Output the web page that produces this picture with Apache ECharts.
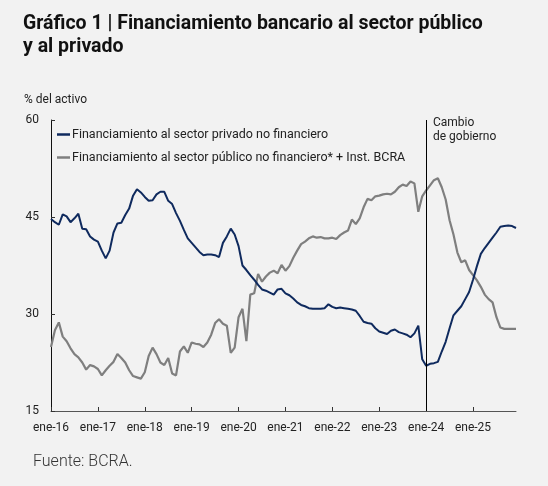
<!DOCTYPE html>
<html>
<head>
<meta charset="utf-8">
<script src="https://cdn.jsdelivr.net/npm/echarts@6/dist/echarts.min.js"></script>
<style>
html,body{margin:0;padding:0;background:#f2f2f2;}
#c{width:548px;height:486px;}
</style>
</head>
<body>
<div id="c"></div>
<script>
var monthNames = ['ene','feb','mar','abr','may','jun','jul','ago','sep','oct','nov','dic'];
var years = ['16','17','18','19','20','21','22','23','24','25'];
var categories = [];
years.forEach(function(y){ monthNames.forEach(function(m){ categories.push(m + '-' + y); }); });

var privado = [
44.7,44.2,43.8,45.4,45.1,44.2,44.8,45.5,43.2,43.1,42.0,41.5,
41.2,39.8,38.6,39.8,42.6,44.0,44.1,45.3,46.3,48.3,49.3,48.8,
48.1,47.5,47.6,48.5,48.9,48.9,47.5,47.0,45.6,44.4,43.0,41.7,
41.0,40.3,39.6,39.1,39.2,39.2,39.1,38.8,41.0,42.0,43.2,42.3,
40.5,37.5,36.8,36.0,35.3,34.5,33.8,33.6,33.3,33.0,33.8,33.9,
33.2,32.9,32.4,31.8,31.4,31.2,30.9,30.8,30.8,30.8,30.9,31.5,
31.1,30.9,31.0,30.9,30.8,30.7,30.5,29.7,28.8,28.6,28.5,27.8,
27.3,27.1,26.9,27.4,27.6,27.2,27.0,26.8,26.4,27.0,28.2,23.0,
22.0,22.3,22.4,22.6,24.2,25.7,27.8,29.8,30.5,31.2,32.3,33.4,
35.3,37.4,39.3,40.2,41.0,41.8,42.6,43.5,43.6,43.7,43.6,43.3
];
var publico = [
24.9,27.5,28.7,26.5,25.8,24.7,23.8,23.3,22.5,21.4,22.1,21.9,
21.5,20.5,21.3,22.0,22.6,23.8,23.2,22.5,21.3,20.4,20.2,20.0,
21.0,23.5,24.8,23.8,22.5,22.1,23.2,20.8,20.5,24.2,25.0,24.0,
25.6,25.4,25.3,24.9,25.6,26.8,28.6,29.2,28.5,28.2,24.0,24.8,
29.5,30.8,25.8,33.0,33.2,36.2,35.0,35.8,36.4,36.7,36.3,37.6,
36.7,37.4,38.7,39.8,40.8,41.2,41.7,42.0,41.8,41.9,41.7,41.7,
41.8,41.6,42.2,42.6,42.9,44.6,43.9,44.8,46.5,47.8,47.6,48.2,
48.3,48.5,48.6,48.5,48.9,49.6,50.0,49.8,50.5,50.2,45.8,48.2,
49.1,49.9,50.7,51.0,49.6,47.7,44.5,42.3,39.5,38.0,38.3,36.8,
36.0,35.2,34.2,33.0,32.3,31.8,29.5,27.9,27.7,27.7,27.7,27.7
];
var yTicks = [15, 30, 45, 60];
var seriesNames = ['Financiamiento al sector privado no financiero', 'Financiamiento al sector público no financiero* + Inst. BCRA'];
var eventLabel = 'Cambio\nde gobierno';
var eventCategory = 'ene-24';

var FONT = 'Roboto';
var chart = echarts.init(document.getElementById('c'), null, {renderer: 'canvas'});
chart.setOption({
  backgroundColor: '#f2f2f2',
  animation: false,
  title: {
    text: 'Gráfico 1 | Financiamiento bancario al sector público\ny al privado',
    left: 18, top: 8,
    textStyle: {fontFamily: FONT, fontSize: 19.5, fontWeight: 'bold', color: '#111', lineHeight: 23}
  },
  legend: {
    orient: 'vertical', left: 57, top: 127, padding: 0,
    itemWidth: 13, itemHeight: 2.5, itemGap: 8,
    icon: 'rect',
    textStyle: {fontFamily: FONT, fontSize: 12.5, color: '#222', lineHeight: 15, padding: [0,0,0,-3]},
    data: seriesNames
  },
  graphic: [
    {type: 'text', left: 24, top: 94, style: {text: '% del activo', fontFamily: FONT, fontSize: 12, fill: '#222'}},
    {type: 'text', left: 433, top: 116, style: {text: eventLabel, fontFamily: FONT, fontSize: 12, lineHeight: 14, fill: '#222'}},
    {type: 'text', left: 33, top: 454, style: {text: 'Fuente: BCRA.', fontFamily: FONT, fontSize: 16, fontWeight: 300, fill: '#333'}}
  ],
  grid: {left: 51, right: 32, top: 120, bottom: 75, containLabel: false},
  xAxis: {
    type: 'category', data: categories, boundaryGap: false,
    axisLine: {lineStyle: {color: '#555', width: 1}},
    axisTick: {inside: true, length: 4, interval: function(i){ return i % 12 === 0; }, lineStyle: {color: '#333'}},
    axisLabel: {interval: function(i){ return i % 12 === 0; }, fontFamily: FONT, fontSize: 12, color: '#222', margin: 11},
    splitLine: {show: false}
  },
  yAxis: {
    type: 'value', min: yTicks[0], max: yTicks[yTicks.length-1], interval: 15,
    axisLine: {show: true, lineStyle: {color: '#111', width: 1}},
    axisTick: {show: true, inside: true, length: 4, lineStyle: {color: '#333'}},
    axisLabel: {fontFamily: FONT, fontSize: 12, color: '#222', margin: 12},
    splitLine: {show: false}
  },
  series: [
    {
      name: seriesNames[0], type: 'line', data: privado, showSymbol: false, symbol: 'none',
      lineStyle: {color: '#0f2a5e', width: 2}, itemStyle: {color: '#0f2a5e'}, z: 3,
      markLine: {
        silent: true, symbol: 'none', animation: false,
        label: {show: false},
        lineStyle: {color: '#000', width: 1, type: 'solid'},
        data: [{xAxis: eventCategory}]
      }
    },
    {
      name: seriesNames[1], type: 'line', data: publico, showSymbol: false, symbol: 'none',
      lineStyle: {color: '#7f7f7f', width: 2.2}, itemStyle: {color: '#7f7f7f'}, z: 2
    }
  ]
});
</script>
</body>
</html>
